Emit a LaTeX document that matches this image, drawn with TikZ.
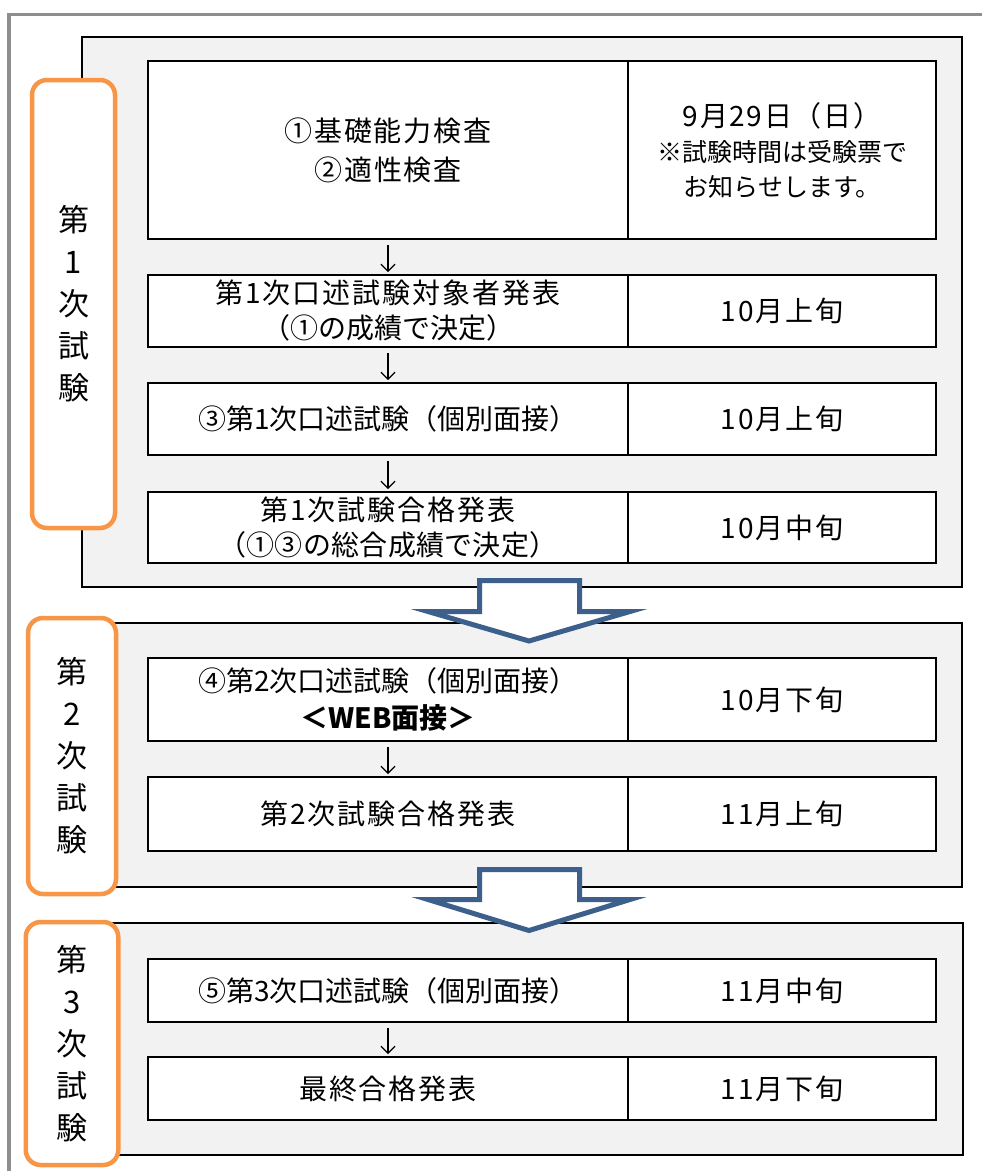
\documentclass[tikz,border=0pt]{standalone}
\usepackage{fontspec}
\setmainfont{Noto Sans CJK JP}
\usetikzlibrary{positioning,arrows.meta}

\definecolor{tagorange}{HTML}{F79646}
\definecolor{arrowblue}{HTML}{3C5F8C}
\definecolor{panelgray}{HTML}{F2F2F2}
\definecolor{framegray}{HTML}{8E8E8E}

\begin{document}
\begin{tikzpicture}
[
x=1pt, y=-1pt,
cell-l/.style={rectangle, draw, line width=2.8pt, fill=white, outer sep=0pt, inner sep=0pt, minimum width=480pt, align=center, font=\fontsize{28}{35}\selectfont},
cell-w/.style={cell-l, font=\fontsize{28}{35}\selectfont\addfontfeature{LetterSpace=7}},
cell-r/.style={cell-w, minimum width=308pt},
panel-a/.style={draw, line width=2.3pt, fill=panelgray},
tag-a/.style={draw=tagorange, line width=4.5pt, fill=white, rounded corners=15pt, align=center, inner sep=0pt, font=\fontsize{31}{42}\selectfont},
step-a/.style={-{Straight Barb[length=7pt,width=14pt]}, line width=1.2pt, shorten <=6pt, shorten >=3pt},
big-arrow/.style={draw=arrowblue, line width=5pt, fill=white, line join=miter}
]

\useasboundingbox (0,0) rectangle (982,1171);
\draw [framegray, line width=3.3pt] (9,1180) -- (9,14.5) -- (990,14.5);

% panels
\draw [panel-a] (82,37)  rectangle (962,587);
\draw [panel-a] (82,623) rectangle (962,887);
\draw [panel-a] (82,923) rectangle (963,1155);

% first test
\node (cell-1)   [cell-w, minimum height=178pt, font=\fontsize{28}{39}\selectfont\addfontfeature{LetterSpace=7}] at (388,150) {①基礎能力検査\\②適性検査};
\node (cell-1-r) [cell-r, minimum height=178pt, right = 0pt of cell-1, font=\fontsize{25}{35}\selectfont] {{\fontsize{28}{35}\selectfont\addfontfeature{LetterSpace=6} 9月29日（日）}\\※試験時間は受験票で\\お知らせします。};
\node (cell-2)   [cell-w, minimum height=72pt, below = 36pt of cell-1] {第1次口述試験対象者発表\\{\addfontfeature{LetterSpace=0}（①の成績で決定）}};
\node (cell-2-r) [cell-r, minimum height=72pt, right = 0pt of cell-2] {10月上旬};
\node (cell-3)   [cell-l, minimum height=72pt, below = 36pt of cell-2] {③第1次口述試験（個別面接）};
\node (cell-3-r) [cell-r, minimum height=72pt, right = 0pt of cell-3] {10月上旬};
\node (cell-4)   [cell-w, minimum height=71pt, below = 37pt of cell-3] {第1次試験合格発表\\{\addfontfeature{LetterSpace=1}（①③の総合成績で決定）}};
\node (cell-4-r) [cell-r, minimum height=71pt, right = 0pt of cell-4] {10月中旬};

% second test
\node (cell-5)   [cell-l, minimum height=83pt, below = 95pt of cell-4, font=\fontsize{28}{37}\selectfont] {④第2次口述試験（個別面接）\\{\bfseries ＜WEB面接＞}};
\node (cell-5-r) [cell-r, minimum height=83pt, right = 0pt of cell-5] {10月下旬};
\node (cell-6)   [cell-w, minimum height=74pt, below = 36pt of cell-5] {第2次試験合格発表};
\node (cell-6-r) [cell-r, minimum height=74pt, right = 0pt of cell-6] {11月上旬};

% third test
\node (cell-7)   [cell-l, minimum height=63pt, below = 108pt of cell-6] {⑤第3次口述試験（個別面接）};
\node (cell-7-r) [cell-r, minimum height=63pt, right = 0pt of cell-7] {11月中旬};
\node (cell-8)   [cell-w, minimum height=63pt, below = 35pt of cell-7] {最終合格発表};
\node (cell-8-r) [cell-r, minimum height=63pt, right = 0pt of cell-8] {11月下旬};

\draw [step-a] (cell-1) -- (cell-2);
\draw [step-a] (cell-2) -- (cell-3);
\draw [step-a] (cell-3) -- (cell-4);
\draw [step-a] (cell-5) -- (cell-6);
\draw [step-a] (cell-7) -- (cell-8);

% tags
\node (tag-1) [tag-a, minimum width=83pt, minimum height=448pt]   at (73.5,304)  {第\\1\\次\\試\\験};
\node (tag-2) [tag-a, minimum width=88pt, minimum height=276pt]   at (72,756)    {第\\2\\次\\試\\験};
\node (tag-3) [tag-a, minimum width=92.5pt, minimum height=243pt] at (72,1043.5) {第\\3\\次\\試\\験};

% block arrows
\draw [big-arrow] (479.5,580.5) -- (579.5,580.5) -- (579.5,611.5) -- (630,611.5) -- (529,641) -- (428,611.5) -- (479.5,611.5) -- cycle;
\draw [big-arrow] (479.5,869.5) -- (579.5,869.5) -- (579.5,899.5) -- (630,899.5) -- (529,930.5) -- (428,899.5) -- (479.5,899.5) -- cycle;

\end{tikzpicture}
\end{document}
